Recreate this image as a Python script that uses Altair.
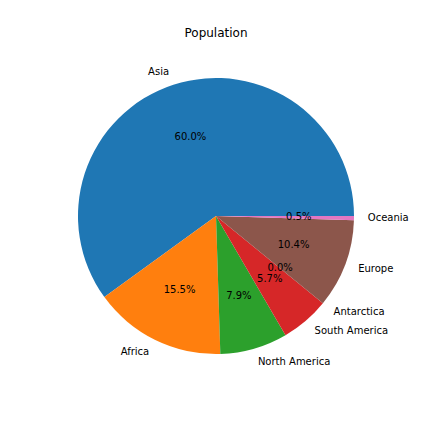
import math
import numpy as np
import pandas as pd
import altair as alt

labels = ["Asia", "Africa", "North America", "South America", "Antarctica", "Europe", "Oceania"]
shares = [60.0, 15.5, 7.9, 5.7, 0.0, 10.4, 0.5]
colors = ["#1f77b4", "#ff7f0e", "#2ca02c", "#d62728", "#9467bd", "#8c564b", "#e377c2"]

vals = np.array(shares)
cum = np.cumsum(vals) - vals / 2
mid = 2 * math.pi * cum / vals.sum()
side = ["right" if math.cos(a) > 1e-9 else "left" for a in mid]

df = pd.DataFrame({
    "label": labels,
    "share": shares,
    "k": list(range(len(labels))),
    "pct": [f"{v:.1f}%" for v in shares],
    "side": side,
})

R = 138
theta = alt.Theta("share:Q", stack=True,
                  scale=alt.Scale(range=[2.5 * math.pi, 0.5 * math.pi]))
color = alt.Color("label:N", scale=alt.Scale(domain=labels, range=colors), legend=None)
order = alt.Order("k:Q", sort="ascending")

base = alt.Chart(df).encode(theta=theta, order=order)

arcs = base.mark_arc(outerRadius=R, stroke=None).encode(color=color)
pcts = base.mark_text(radius=R * 0.6, font="DejaVu Sans", fontSize=10,
                      color="black", align="center", baseline="middle").encode(text="pct:N")
lab_r = base.mark_text(
    radius=R * 1.1, font="DejaVu Sans", fontSize=10, color="black",
    align="left", baseline="middle").encode(
    text=alt.condition(alt.datum.side == "right", "label:N", alt.value("")))
lab_l = base.mark_text(
    radius=R * 1.1, font="DejaVu Sans", fontSize=10, color="black",
    align="right", baseline="middle").encode(
    text=alt.condition(alt.datum.side == "left", "label:N", alt.value("")))

chart = alt.layer(arcs, pcts, lab_r, lab_l).properties(
    width=416, height=336,
    padding={"left": 0, "right": 0, "top": 40, "bottom": 0},
    autosize=alt.AutoSizeParams(type="none"),
    title=alt.TitleParams("Population", font="DejaVu Sans", fontSize=12,
                          fontWeight="normal", color="black", anchor="middle", offset=8),
).configure_view(stroke=None).configure(background="white")

chart.save("out.html", embed_options={"renderer": "svg", "actions": False})
